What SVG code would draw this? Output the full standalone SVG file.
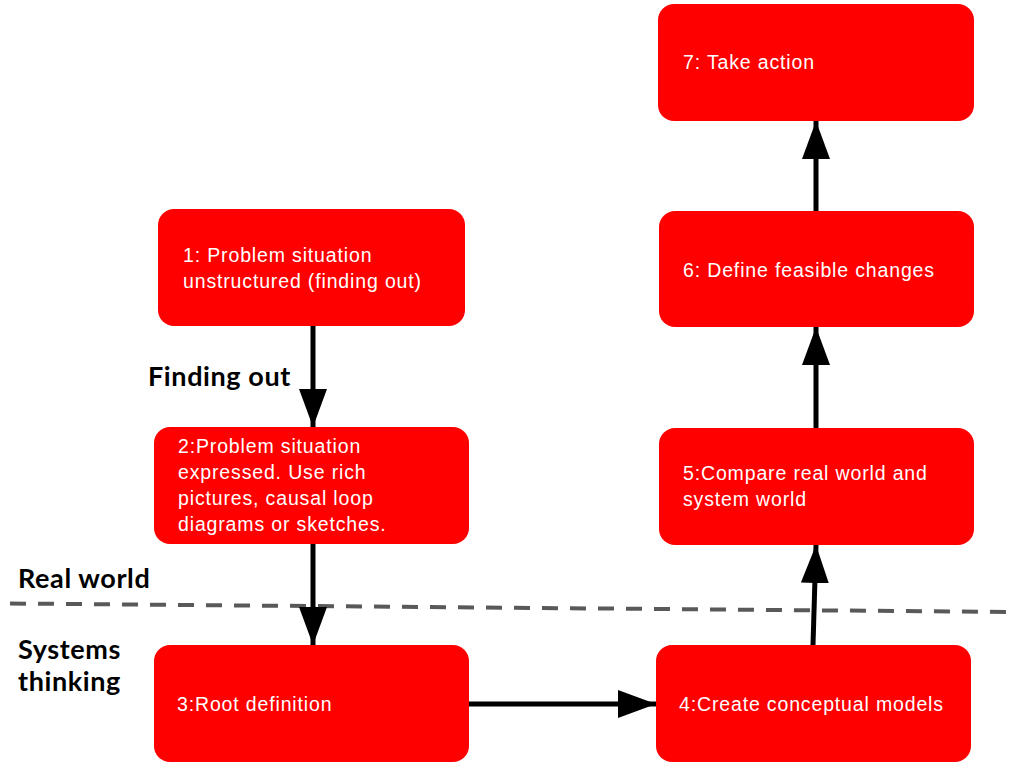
<svg xmlns="http://www.w3.org/2000/svg" width="1013" height="762" viewBox="0 0 1013 762">
<style>
.node{fill:#ff0000;}
.nt{font-family:"Liberation Sans",Arial,sans-serif;font-size:19.5px;letter-spacing:0.85px;fill:#ffffff;}
.lbl{font-family:Lato,"Liberation Sans",sans-serif;font-weight:bold;font-size:27px;letter-spacing:0.6px;fill:#000000;}
.conn{stroke:#000000;stroke-width:5;fill:none;}
</style>
<defs>
<marker id="ah" markerUnits="userSpaceOnUse" viewBox="0 0 38 28" refX="38" refY="14" markerWidth="38" markerHeight="28" orient="auto">
<path d="M0,0 L38,14 L0,28 Z" fill="#000000"/>
</marker>
</defs>
<rect width="1013" height="762" fill="#ffffff"/>
<line x1="10" y1="603.5" x2="1013" y2="612" stroke="#595959" stroke-width="4" stroke-dasharray="16 12"/>
<g id="labels">
<text class="lbl" x="148" y="386">Finding out</text>
<text class="lbl" x="18" y="588">Real world</text>
<text class="lbl" x="18" y="659">Systems</text>
<text class="lbl" x="18" y="691">thinking</text>
</g>
<g id="connectors">
<line class="conn" x1="313" y1="326" x2="313" y2="427" marker-end="url(#ah)"/>
<line class="conn" x1="313" y1="544" x2="313" y2="645" marker-end="url(#ah)"/>
<line class="conn" x1="469" y1="704" x2="656" y2="704" marker-end="url(#ah)"/>
<line class="conn" x1="813" y1="645" x2="816" y2="545" marker-end="url(#ah)"/>
<line class="conn" x1="816" y1="428" x2="816" y2="327" marker-end="url(#ah)"/>
<line class="conn" x1="816" y1="211" x2="816" y2="121" marker-end="url(#ah)"/>
</g>
<g id="node1">
<rect class="node" x="158" y="209" width="307" height="117" rx="16"/>
<text class="nt" x="183" y="262">1: Problem situation</text>
<text class="nt" x="183" y="288">unstructured (finding out)</text>
</g>
<g id="node2">
<rect class="node" x="154" y="427" width="315" height="117" rx="16"/>
<text class="nt" x="178" y="453">2:Problem situation</text>
<text class="nt" x="178" y="479">expressed. Use rich</text>
<text class="nt" x="178" y="505">pictures, causal loop</text>
<text class="nt" x="178" y="531">diagrams or sketches.</text>
</g>
<g id="node3">
<rect class="node" x="154" y="645" width="315" height="117" rx="16"/>
<text class="nt" x="177" y="711">3:Root definition</text>
</g>
<g id="node4">
<rect class="node" x="656" y="645" width="315" height="117" rx="16"/>
<text class="nt" x="679" y="711">4:Create conceptual models</text>
</g>
<g id="node5">
<rect class="node" x="659" y="428" width="315" height="117" rx="16"/>
<text class="nt" x="683" y="480">5:Compare real world and</text>
<text class="nt" x="683" y="506">system world</text>
</g>
<g id="node6">
<rect class="node" x="659" y="211" width="315" height="116" rx="16"/>
<text class="nt" x="683" y="277">6: Define feasible changes</text>
</g>
<g id="node7">
<rect class="node" x="658" y="4" width="316" height="117" rx="16"/>
<text class="nt" x="683" y="69">7: Take action</text>
</g>
</svg>
